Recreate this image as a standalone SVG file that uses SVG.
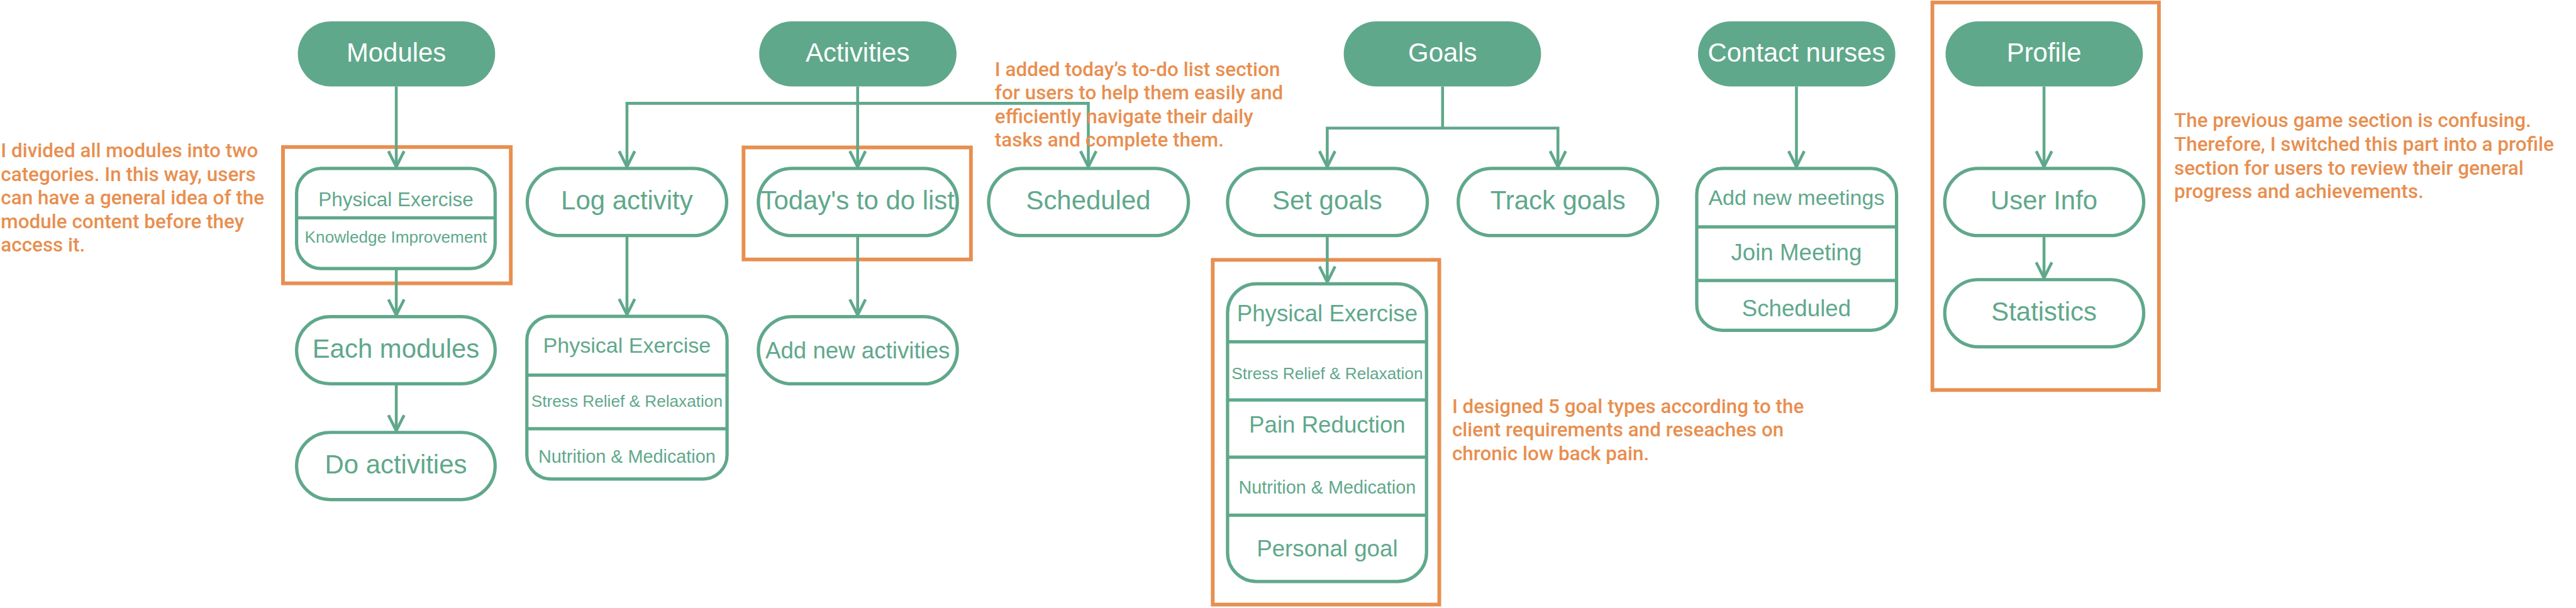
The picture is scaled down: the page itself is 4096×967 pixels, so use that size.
<svg xmlns="http://www.w3.org/2000/svg" width="4096" height="967" viewBox="0 0 4096 967">
<defs>
<style>
.head{fill:#60A88B;}
.node{fill:#FFFFFF;stroke:#60A88B;stroke-width:8;}
.div{stroke:#60A88B;stroke-width:8;}
.hl{stroke:#E88F50;stroke-width:9;fill:none;}
.con{fill:none;stroke:#60A88B;stroke-width:7;marker-end:url(#arr);}
.wt{fill:#FFFFFF;font-family:"Liberation Sans",Arial,sans-serif;font-size:64px;text-anchor:middle;}
.gt{fill:#60A88B;font-family:"Liberation Sans",Arial,sans-serif;text-anchor:middle;}
.note{fill:#E88F50;font-family:Roboto,"Liberation Sans",sans-serif;font-size:48px;font-weight:500;}
</style>
<marker id="arr" markerUnits="userSpaceOnUse" viewBox="-50 -30 60 60" markerWidth="60" markerHeight="60" refX="4" refY="0" orient="auto">
<path d="M-38,-19 L0,0 L-38,19" fill="none" stroke="#60A88B" stroke-width="7"/>
</marker>
</defs>
<rect width="4096" height="967" fill="#FFFFFF"/>
<g transform="scale(0.655)">
<g id="highlights">
<rect class="hl" x="687" y="357" width="553" height="331"/>
<rect class="hl" x="1805" y="358" width="552" height="272"/>
<rect class="hl" x="2944" y="631" width="550" height="837"/>
<rect class="hl" x="4691" y="6" width="550" height="941"/>
</g>
<g id="modules"><rect class="head" x="723" y="52" width="479" height="158" rx="79"/><text class="wt" x="962" y="149">Modules</text></g>
<g id="activities"><rect class="head" x="1843" y="52" width="479" height="158" rx="79"/><text class="wt" x="2082" y="149">Activities</text></g>
<g id="goals"><rect class="head" x="3262" y="52" width="479" height="158" rx="79"/><text class="wt" x="3502" y="150">Goals</text></g>
<g id="contact-nurses"><rect class="head" x="4122" y="52" width="479" height="158" rx="79"/><text class="wt" x="4361" y="149">Contact nurses</text></g>
<g id="profile"><rect class="head" x="4723" y="52" width="479" height="158" rx="79"/><text class="wt" x="4962" y="149">Profile</text></g>

<g id="module-categories">
<rect class="node" x="720" y="409" width="482" height="243" rx="60"/>
<line class="div" x1="720" y1="529" x2="1202" y2="529"/>
<text class="gt" x="961" y="501" font-size="48">Physical Exercise</text>
<text class="gt" x="961" y="589" font-size="40">Knowledge Improvement</text>
</g>
<g id="each-modules"><rect class="node" x="720" y="769" width="482" height="163" rx="81.5"/><text class="gt" x="961" y="868" font-size="64">Each modules</text></g>
<g id="do-activities"><rect class="node" x="720" y="1050" width="482" height="163" rx="81.5"/><text class="gt" x="961" y="1149" font-size="64">Do activities</text></g>

<g id="log-activity"><rect class="node" x="1280" y="409" width="484" height="163" rx="81.5"/><text class="gt" x="1522" y="508" font-size="64">Log activity</text></g>
<g id="todays-to-do-list"><rect class="node" x="1841" y="409" width="483" height="163" rx="81.5"/><text class="gt" x="2082" y="508" font-size="64">Today's to do list</text></g>
<g id="add-new-activities"><rect class="node" x="1841" y="769" width="483" height="163" rx="81.5"/><text class="gt" x="2082" y="870" font-size="56">Add new activities</text></g>
<g id="activity-types">
<rect class="node" x="1279" y="768" width="486" height="395" rx="58"/>
<line class="div" x1="1279" y1="911" x2="1765" y2="911"/>
<line class="div" x1="1279" y1="1041" x2="1765" y2="1041"/>
<text class="gt" x="1522" y="857" font-size="52">Physical Exercise</text>
<text class="gt" x="1522" y="988" font-size="40">Stress Relief &amp; Relaxation</text>
<text class="gt" x="1522" y="1124" font-size="44">Nutrition &amp; Medication</text>
</g>
<g id="scheduled"><rect class="node" x="2400" y="409" width="485" height="163" rx="81.5"/><text class="gt" x="2642" y="508" font-size="64">Scheduled</text></g>

<g id="set-goals"><rect class="node" x="2980" y="409" width="485" height="163" rx="81.5"/><text class="gt" x="3222" y="508" font-size="64">Set goals</text></g>
<g id="track-goals"><rect class="node" x="3540" y="409" width="484" height="163" rx="81.5"/><text class="gt" x="3782" y="508" font-size="64">Track goals</text></g>
<g id="goal-types">
<rect class="node" x="2980" y="689" width="483" height="723" rx="70"/>
<line class="div" x1="2980" y1="830" x2="3463" y2="830"/>
<line class="div" x1="2980" y1="971" x2="3463" y2="971"/>
<line class="div" x1="2980" y1="1110" x2="3463" y2="1110"/>
<line class="div" x1="2980" y1="1251" x2="3463" y2="1251"/>
<text class="gt" x="3222" y="780" font-size="56">Physical Exercise</text>
<text class="gt" x="3222" y="920" font-size="40">Stress Relief &amp; Relaxation</text>
<text class="gt" x="3222" y="1051" font-size="56">Pain Reduction</text>
<text class="gt" x="3222" y="1199" font-size="44">Nutrition &amp; Medication</text>
<text class="gt" x="3222" y="1351" font-size="56">Personal goal</text>
</g>

<g id="meetings">
<rect class="node" x="4119" y="409" width="485" height="393" rx="62"/>
<line class="div" x1="4119" y1="551" x2="4604" y2="551"/>
<line class="div" x1="4119" y1="681" x2="4604" y2="681"/>
<text class="gt" x="4361" y="497" font-size="52">Add new meetings</text>
<text class="gt" x="4361" y="632" font-size="56">Join Meeting</text>
<text class="gt" x="4361" y="768" font-size="56">Scheduled</text>
</g>

<g id="user-info"><rect class="node" x="4721" y="409" width="483" height="163" rx="81.5"/><text class="gt" x="4962" y="508" font-size="64">User Info</text></g>
<g id="statistics"><rect class="node" x="4721" y="679" width="483" height="163" rx="81.5"/><text class="gt" x="4962" y="779" font-size="64">Statistics</text></g>

<g id="connectors">
<path class="con" d="M962,210 V409"/>
<path class="con" d="M962,652 V769"/>
<path class="con" d="M962,932 V1050"/>
<path class="con" d="M2082,210 V409"/>
<path class="con" d="M2082,251 H1522 V409"/>
<path class="con" d="M2082,251 H2642 V409"/>
<path class="con" d="M2082,572 V769"/>
<path class="con" d="M1522,572 V768"/>
<path class="con" d="M3502,210 V311 H3222 V409"/>
<path class="con" d="M3502,311 H3782 V409"/>
<path class="con" d="M3222,572 V689"/>
<path class="con" d="M4361,210 V409"/>
<path class="con" d="M4962,210 V409"/>
<path class="con" d="M4962,572 V679"/>
</g>

<g id="notes">
<text class="note"><tspan x="2" y="382">I divided all modules into two</tspan><tspan x="2" y="439">categories. In this way, users</tspan><tspan x="2" y="496">can have a general idea of the</tspan><tspan x="2" y="554">module content before they</tspan><tspan x="2" y="611">access it.</tspan></text>
<text class="note"><tspan x="2415" y="184">I added today’s to-do list section</tspan><tspan x="2415" y="241">for users to help them easily and</tspan><tspan x="2415" y="299">efficiently navigate their daily</tspan><tspan x="2415" y="356">tasks and complete them.</tspan></text>
<text class="note"><tspan x="3525" y="1003">I designed 5 goal types according to the</tspan><tspan x="3525" y="1060">client requirements and reseaches on</tspan><tspan x="3525" y="1117">chronic low back pain.</tspan></text>
<text class="note"><tspan x="5278" y="309">The previous game section is confusing.</tspan><tspan x="5278" y="367">Therefore, I switched this part into a profile</tspan><tspan x="5278" y="424">section for users to review their general</tspan><tspan x="5278" y="481">progress and achievements.</tspan></text>
</g>
</g>
</svg>
